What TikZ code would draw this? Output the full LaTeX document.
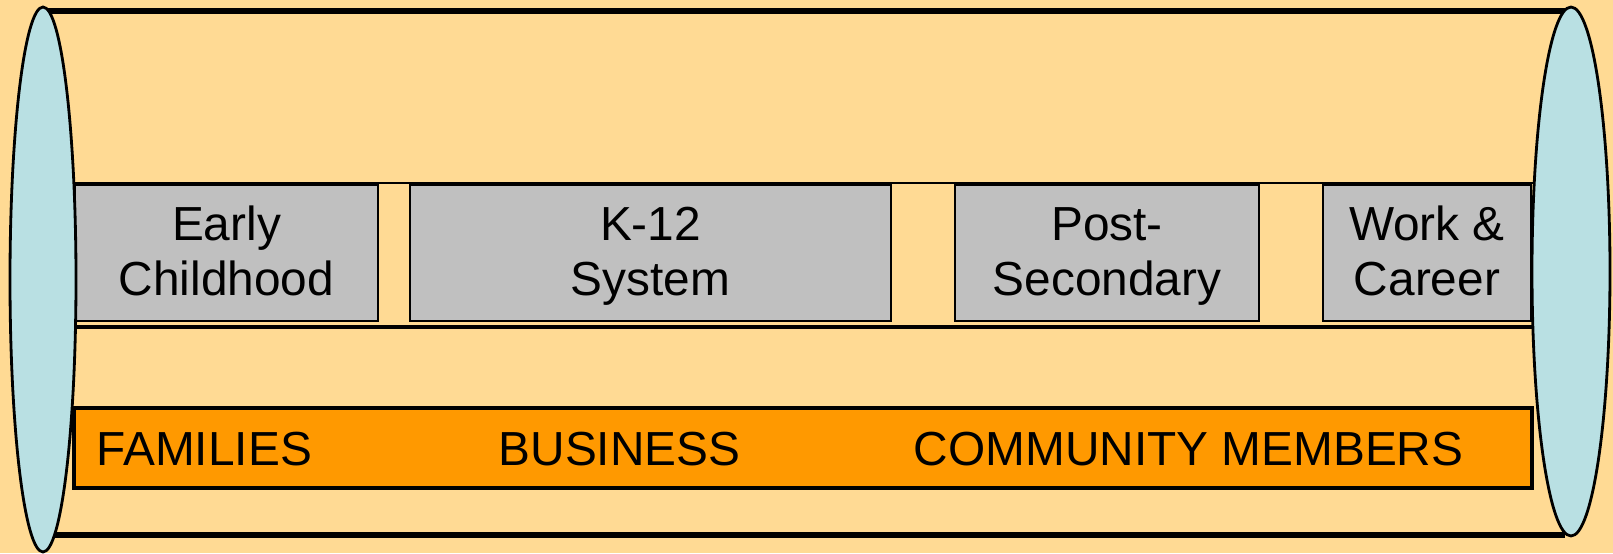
\documentclass[tikz,border=0pt]{standalone}
\usepackage{fontspec}
\setmainfont{Liberation Sans}
\definecolor{pageback}{RGB}{255,218,148}
\definecolor{capblue}{RGB}{185,224,227}
\definecolor{stagegrey}{RGB}{192,192,192}
\definecolor{partnerorange}{RGB}{255,153,0}
\tikzset{
  stage/.style={draw=black, line width=0.7pt, fill=stagegrey, inner sep=0pt,
    minimum height=1.36cm},
  stagetext/.style={inner sep=0pt, align=center, font=\fontsize{13.6}{15.7}\selectfont},
  partner/.style={anchor=base west, inner sep=0pt, font=\fontsize{13.6}{16}\selectfont}
}

\begin{document}
\begin{tikzpicture}
		%%%%% START %%%%%
		\fill[pageback] (0, 0) rectangle (16.13, 5.53);
		\useasboundingbox (0, 0) rectangle (16.13, 5.53);
		
		% long sides of the pipe
		\draw[line width=1.5pt] (0.43, 5.42) -- (15.65, 5.42);
		\draw[line width=1.5pt] (0.55, 0.18) -- (15.65, 0.18);
		
		% band holding the stages
		\draw[line width=0.7pt] (0.75, 3.70) -- (15.33, 3.70);
		\draw[line width=1.3pt] (0.75, 2.26) -- (15.33, 2.26);
		
		\node[stage, minimum width=3.03cm] (early) at (2.265, 3.00) {};
		\node[stage, minimum width=4.81cm] (school) at (6.505, 3.00) {};
		\node[stage, minimum width=3.04cm] (post) at (11.07, 3.00) {};
		\node[stage, minimum width=2.08cm] (work) at (14.27, 3.00) {};
		\node[stagetext] (earlylabel) at ([yshift=-0.04cm]early) {Early\strut\\Childhood\strut};
		\node[stagetext] (schoollabel) at ([yshift=-0.04cm]school) {K-12\strut\\System\strut};
		\node[stagetext] (postlabel) at ([yshift=-0.04cm]post) {Post-\strut\\Secondary\strut};
		\node[stagetext] (worklabel) at ([yshift=-0.04cm]work) {Work \&\strut\\Career\strut};
		
		% partners strip
		\draw[line width=0.9pt, fill=partnerorange] (0.74, 0.65) rectangle (15.32, 1.45);
		\node[partner] (families) at (0.96, 0.88) {FAMILIES};
		\node[partner] (business) at (4.98, 0.88) {BUSINESS};
		\node[partner] (community) at (9.13, 0.88) {COMMUNITY MEMBERS};
		
		% end caps
		\draw[line width=0.8pt, fill=capblue] (0.43, 2.735) ellipse (0.33 and 2.725);
		\draw[line width=0.8pt, fill=capblue] (15.71, 2.815) ellipse (0.39 and 2.645);
		%%%%% END %%%%%
\end{tikzpicture}
\end{document}
